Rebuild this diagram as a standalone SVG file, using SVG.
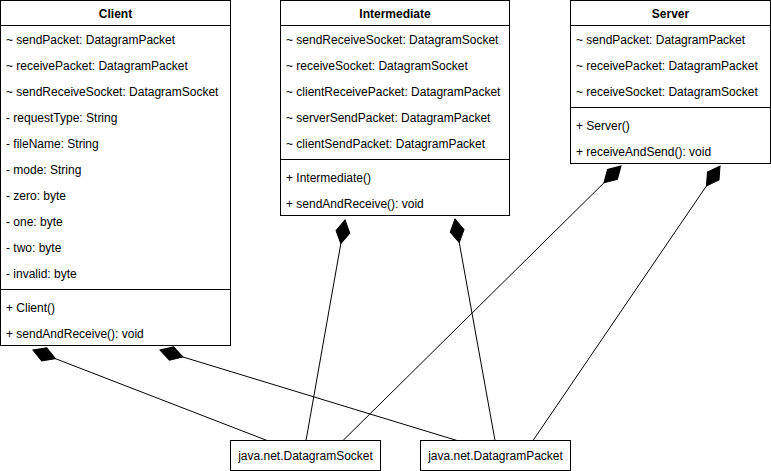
<svg xmlns="http://www.w3.org/2000/svg" width="771" height="471" viewBox="0 0 771 471">
  <style>
    .box { fill: #ffffff; stroke: #000000; stroke-width: 1; }
    .sep { stroke: #000000; stroke-width: 1; fill: none; }
    text { font-family: "Liberation Sans", Arial, Helvetica, sans-serif; font-size: 12px; fill: #000000; }
    .title { font-weight: bold; text-anchor: middle; }
    .mid { text-anchor: middle; }
    .link { stroke: #000000; stroke-width: 1; fill: none; marker-start: url(#composition); }
  </style>
  <defs>
    <!-- filled diamond at the owning end of a composition -->
    <marker id="composition" markerUnits="userSpaceOnUse" viewBox="0 -8 25 16"
            refX="0" refY="0" markerWidth="25" markerHeight="16" orient="auto" overflow="visible">
      <path d="M0,0 L12,-7 L24,0 L12,7 Z" fill="#000000" stroke="#000000" stroke-width="1"/>
    </marker>
  </defs>

  <rect x="0" y="0" width="771" height="471" fill="#ffffff"/>

  <!-- connectors -->
  <g id="connectors">
    <line class="link" x1="33" y1="350" x2="267" y2="440.5"/>
    <line class="link" x1="160" y1="350" x2="457" y2="440.5"/>
    <line class="link" x1="345" y1="220" x2="306" y2="440.5"/>
    <line class="link" x1="455" y1="219" x2="495" y2="440.5"/>
    <line class="link" x1="621" y1="166" x2="343" y2="440.5"/>
    <line class="link" x1="720" y1="166" x2="533" y2="440.5"/>
  </g>

  <!-- class Client -->
  <g id="client">
    <rect class="box" x="0.5" y="0.5" width="230" height="345"/>
    <line class="sep" x1="0.5" y1="25.5" x2="230.5" y2="25.5"/>
    <line class="sep" x1="0.5" y1="289.5" x2="230.5" y2="289.5"/>
    <text class="title" x="115.5" y="18">Client</text>
    <text x="6" y="44">~ sendPacket: DatagramPacket</text>
    <text x="6" y="70">~ receivePacket: DatagramPacket</text>
    <text x="6" y="96">~ sendReceiveSocket: DatagramSocket</text>
    <text x="6" y="122">- requestType: String</text>
    <text x="6" y="148">- fileName: String</text>
    <text x="6" y="174">- mode: String</text>
    <text x="6" y="200">- zero: byte</text>
    <text x="6" y="226">- one: byte</text>
    <text x="6" y="252">- two: byte</text>
    <text x="6" y="278">- invalid: byte</text>
    <text x="6" y="312">+ Client()</text>
    <text x="6" y="338">+ sendAndReceive(): void</text>
  </g>

  <!-- class Intermediate -->
  <g id="intermediate">
    <rect class="box" x="280.5" y="0.5" width="229" height="215"/>
    <line class="sep" x1="280.5" y1="25.5" x2="509.5" y2="25.5"/>
    <line class="sep" x1="280.5" y1="159.5" x2="509.5" y2="159.5"/>
    <text class="title" x="395" y="18">Intermediate</text>
    <text x="286" y="44">~ sendReceiveSocket: DatagramSocket</text>
    <text x="286" y="70">~ receiveSocket: DatagramSocket</text>
    <text x="286" y="96">~ clientReceivePacket: DatagramPacket</text>
    <text x="286" y="122">~ serverSendPacket: DatagramPacket</text>
    <text x="286" y="148">~ clientSendPacket: DatagramPacket</text>
    <text x="286" y="182">+ Intermediate()</text>
    <text x="286" y="208">+ sendAndReceive(): void</text>
  </g>

  <!-- class Server -->
  <g id="server">
    <rect class="box" x="570.5" y="0.5" width="200" height="163"/>
    <line class="sep" x1="570.5" y1="25.5" x2="770.5" y2="25.5"/>
    <line class="sep" x1="570.5" y1="107.5" x2="770.5" y2="107.5"/>
    <text class="title" x="670.5" y="18">Server</text>
    <text x="576" y="44">~ sendPacket: DatagramPacket</text>
    <text x="576" y="70">~ receivePacket: DatagramPacket</text>
    <text x="576" y="96">~ receiveSocket: DatagramSocket</text>
    <text x="576" y="130">+ Server()</text>
    <text x="576" y="156">+ receiveAndSend(): void</text>
  </g>

  <!-- library types -->
  <g id="datagram-socket">
    <rect class="box" x="230.5" y="440.5" width="150" height="30"/>
    <text class="mid" x="305.5" y="460">java.net.DatagramSocket</text>
  </g>
  <g id="datagram-packet">
    <rect class="box" x="420.5" y="440.5" width="150" height="30"/>
    <text class="mid" x="495.5" y="460">java.net.DatagramPacket</text>
  </g>
</svg>
